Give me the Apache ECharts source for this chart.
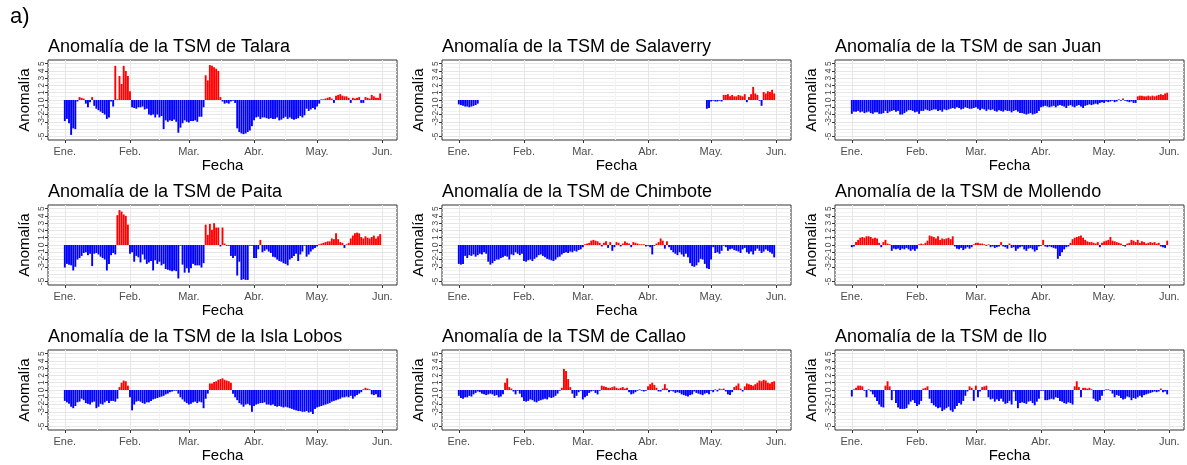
<!DOCTYPE html>
<html><head><meta charset="utf-8">
<script src="https://cdn.jsdelivr.net/npm/echarts@6/dist/echarts.min.js"></script>
<style>html,body{margin:0;padding:0;background:#fff}#c{width:1187px;height:465px}</style>
</head><body><div id="c"></div>
<script>
// ---- tick labels / categories ----
const monthLabels = ['Ene.','Feb.','Mar.','Abr.','May.','Jun.'];
const monthDays = [0, 31, 59, 90, 120, 151];
const midMonthDays = [15.5, 45, 74.5, 105, 135.5];
const yTicks = [-5,-4,-3,-2,-1,0,1,2,3,4,5];
const yMinor = [-4.5,-3.5,-2.5,-1.5,-0.5,0.5,1.5,2.5,3.5,4.5];
const stations = ['Talara','Salaverry','san Juan','Paita','Chimbote','Mollendo','la Isla Lobos','Callao','Ilo'];

// ---- daily anomalies, 1 Jan .. 31 May ----
const talara = [
-2.9,-2.6,-3.2,-4.8,-3.9,-4.0,-0.2,0.4,0.3,0.2,
-0.5,-1.0,-0.3,0.4,-0.8,-1.2,-1.4,-1.6,-1.8,-2.0,
-2.6,-2.4,-0.2,-0.9,4.7,0.1,3.3,2.2,4.7,4.0,
3.3,1.2,-1.0,-1.1,-1.2,-1.0,-1.0,-0.9,-1.3,-1.2,
-2.0,-2.1,-2.0,-2.4,-2.0,-2.4,-2.2,-4.0,-2.8,-3.0,
-2.8,-2.9,-2.7,-3.0,-4.5,-3.8,-3.2,-2.8,-3.0,-3.1,
-2.9,-2.9,-2.8,-3.0,-2.3,-2.3,-1.0,3.4,2.7,4.8,
4.7,4.5,4.3,4.0,0.4,-0.2,-0.5,-0.4,-0.5,-0.2,
-0.1,-0.4,-3.9,-4.4,-4.6,-4.7,-4.6,-4.4,-4.2,-3.6,
-2.8,-2.4,-2.3,-2.6,-2.4,-2.4,-2.5,-2.6,-2.5,-2.6,
-2.6,-2.4,-2.8,-2.7,-2.5,-2.3,-2.6,-2.4,-2.6,-2.7,
-2.6,-2.5,-2.2,-2.4,-2.1,-1.2,-1.5,-1.3,-1.1,-1.3,
-0.9,-0.5,0.1,0.1,0.2,0.3,0.4,0.2,-0.4,0.6,
0.7,0.8,0.6,0.5,0.5,0.3,-0.4,0.3,0.2,0.3,
0.4,-0.4,-0.4,0.4,0.3,0.2,0.7,0.5,0.3,0.3,
0.9];
const salaverry = [
-0.6,-0.7,-0.8,-0.9,-0.9,-1.0,-0.9,-0.8,-0.7,-0.5,
null,null,null,null,null,null,null,null,null,null,
null,null,null,null,null,null,null,null,null,null,
null,null,null,null,null,null,null,null,null,null,
null,null,null,null,null,null,null,null,null,null,
null,null,null,null,null,null,null,null,null,null,
null,null,null,null,null,null,null,null,null,null,
null,null,null,null,null,null,null,null,null,null,
null,null,null,null,null,null,null,null,null,null,
null,null,null,null,null,null,null,null,null,null,
null,null,null,null,null,null,null,null,null,null,
null,null,null,null,null,null,null,null,
-1.2,-1.1,-0.2,-0.1,-0.2,-0.2,-0.1,-0.2,0.7,0.7,
0.8,0.5,0.7,0.5,0.5,0.7,0.6,0.5,0.8,-0.3,
0.4,0.8,1.8,0.9,0.7,-0.1,-0.8,1.1,0.9,1.2,
1.1,1.4,0.9];
const sanJuan = [
-1.9,-1.6,-1.6,-1.5,-1.7,-1.6,-1.8,-1.7,-1.6,-1.8,
-1.9,-1.7,-1.7,-1.9,-1.9,-1.8,-1.5,-1.8,-1.6,-1.5,
-1.4,-1.6,-1.5,-2.0,-2.0,-1.8,-1.6,-1.4,-1.4,-1.5,
-1.7,-1.6,-1.9,-1.5,-1.5,-1.3,-1.4,-1.5,-1.4,-1.3,
-1.3,-1.5,-1.4,-1.6,-1.3,-1.4,-1.3,-1.2,-1.1,-1.2,
-1.0,-1.1,-1.3,-1.2,-1.0,-1.1,-1.2,-1.2,-1.1,-1.0,
-1.2,-1.4,-1.2,-1.3,-1.5,-1.3,-1.4,-1.3,-1.5,-1.6,
-1.4,-1.5,-1.6,-1.4,-1.5,-1.5,-1.7,-1.5,-1.4,-1.6,
-1.8,-1.8,-1.9,-2.0,-1.9,-1.8,-2.0,-1.9,-1.8,-1.5,
-1.0,-0.9,-0.8,-0.9,-1.0,-0.9,-0.8,-1.0,-0.8,-0.7,
-0.8,-0.9,-1.1,-0.8,-0.7,-0.9,-1.0,-0.8,-0.7,-0.9,
-1.1,-0.8,-0.7,-0.6,-0.7,-0.6,-0.5,-0.6,-0.4,-0.3,
-0.4,-0.2,-0.3,-0.2,-0.1,-0.3,-0.2,0.1,-0.1,0.2,
-0.1,-0.2,-0.3,-0.2,-0.4,-0.4,0.5,0.6,0.6,0.5,
0.5,0.6,0.5,0.6,0.5,0.6,0.7,0.8,0.7,0.9,
1.0];
const paita = [
-3.1,-2.6,-2.7,-2.8,-3.5,-3.0,-2.0,-1.8,-1.5,-1.1,
-1.0,-1.4,-1.2,-2.9,-1.2,-1.1,-1.3,-1.6,-1.8,-2.0,
-3.5,-2.6,-1.4,-1.1,-1.3,4.1,4.8,4.6,4.2,4.0,
2.8,-1.2,-1.0,-2.3,-1.5,-1.7,-2.4,-1.3,-2.0,-2.6,
-2.4,-2.2,-3.5,-2.1,-2.6,-2.3,-2.8,-2.6,-3.3,-3.4,
-3.5,-3.6,-3.5,-3.6,-4.6,-0.1,-2.7,-3.8,-3.2,-3.8,
-3.2,-2.6,-2.8,-2.8,-2.8,-3.1,-2.5,2.8,1.4,2.9,
2.1,3.0,2.4,2.4,-0.2,2.4,0.2,-0.1,-0.1,-1.5,
-1.8,-1.5,-4.2,-2.3,-4.8,-4.7,-4.8,-4.8,-0.1,-0.1,
-1.8,-1.8,-0.6,0.7,-1.0,-0.8,-0.6,-0.9,-1.1,-1.6,
-1.7,-2.0,-2.2,-2.3,-2.5,-2.6,-2.8,-2.0,-1.8,-1.5,
-1.2,-2.2,-1.3,-0.9,-0.1,-1.6,-1.3,-0.9,-0.6,-0.4,
-0.2,0.1,0.2,0.3,0.4,0.5,0.5,0.9,0.8,1.6,
0.8,0.4,0.3,-0.4,0.1,0.3,0.9,1.3,1.6,1.7,
1.6,1.1,0.9,1.2,1.0,0.9,1.1,1.3,0.9,1.2,
1.5];
const chimbote = [
-2.6,-2.7,-2.6,-1.5,-1.8,-1.4,-1.5,-1.3,-1.6,-1.4,
-1.2,-1.3,-1.0,-1.2,-2.3,-2.7,-2.5,-2.2,-2.0,-2.0,
-1.8,-1.7,-1.5,-1.6,-2.0,-1.3,-1.4,-1.0,-1.2,-1.4,
-1.2,-2.2,-2.3,-2.1,-2.0,-2.2,-1.9,-1.7,-1.4,-1.3,
-1.5,-1.7,-1.9,-2.0,-2.1,-2.2,-2.0,-1.7,-1.6,-1.3,
-1.1,-1.0,-1.1,-0.9,-1.0,-0.8,-0.9,-0.7,-0.6,-0.3,
0.1,0.2,0.3,0.6,0.7,0.6,0.5,0.3,-0.2,0.3,
0.5,-0.4,0.4,-0.8,-0.3,0.4,0.3,-0.2,0.2,0.5,
0.3,0.2,-0.3,0.4,0.3,0.2,0.1,0.1,0.1,-0.2,
-0.1,-0.3,-1.3,-0.1,0.2,0.4,0.9,0.6,-0.5,0.5,
-0.3,-0.7,-1.0,-1.2,-1.4,-1.0,-1.3,-1.6,-1.2,-1.7,
-2.5,-2.9,-3.0,-2.8,-2.4,-1.9,-2.0,-2.6,-3.2,-3.3,
-2.0,-0.3,-1.1,-1.0,-1.2,-0.8,-0.1,-0.3,-0.8,-0.6,
-0.5,-0.7,-0.8,-0.9,-1.1,-0.6,-0.4,-1.0,-1.2,-0.9,
-1.3,-0.8,-0.5,-0.8,-1.1,-0.9,-0.6,-0.8,-1.0,-1.2,
-1.7];
const mollendo = [
-0.3,-0.2,0.4,0.7,1.0,1.1,1.0,1.2,1.2,1.1,
0.9,1.0,0.9,0.3,-0.3,0.4,0.7,0.2,0.1,-0.8,
-0.5,-0.6,-0.5,-0.7,-0.5,-0.6,-0.4,-0.6,-0.8,-0.6,
-0.8,-0.5,0.1,0.2,0.1,0.3,0.6,1.3,1.2,1.1,
0.9,1.2,0.7,0.9,0.8,0.9,1.0,0.8,1.2,-0.2,
-0.5,-0.6,-0.4,-0.7,-0.5,-0.3,-0.5,-0.3,0.1,0.3,
0.3,0.2,0.2,0.1,-0.1,0.1,-0.3,-0.2,-0.4,-0.3,
-0.2,0.4,-0.2,-0.3,-0.5,0.2,-0.4,-0.3,-0.8,-0.5,
-0.3,-0.2,-0.6,-0.8,-0.5,-0.4,-0.6,-0.9,-0.7,-0.2,
-0.1,0.7,-0.2,-0.3,-0.2,-0.3,-0.4,-0.5,-1.9,-1.5,
-1.0,-0.6,-0.3,-0.2,0.3,0.8,1.0,1.1,1.2,1.3,
1.0,0.7,0.5,0.4,0.4,0.3,0.2,0.4,-0.3,0.3,
0.5,0.6,0.7,1.1,0.6,0.5,0.4,0.3,0.2,-0.1,
-0.2,0.2,0.3,0.7,0.6,0.4,0.7,0.3,0.5,0.4,
0.2,0.3,0.4,0.3,0.4,0.2,0.3,-0.2,-0.3,-0.4,
0.6];
const islaLobos = [
-1.5,-1.7,-1.9,-2.3,-2.5,-2.2,-1.7,-1.6,-1.2,-1.4,
-1.8,-1.9,-2.0,-1.7,-1.6,-2.5,-2.3,-1.9,-2.0,-1.7,
-1.5,-1.8,-1.5,-1.5,-1.6,-1.2,0.4,1.0,1.3,1.2,
0.6,-1.0,-2.8,-2.0,-1.6,-1.5,-1.6,-1.8,-1.9,-1.7,
-1.7,-1.5,-1.3,-1.2,-1.1,-1.0,-0.9,-0.8,-0.6,-0.5,
-0.3,-0.2,-0.1,-0.1,-0.5,-1.0,-1.3,-1.6,-1.8,-2.0,
-1.9,-1.7,-1.6,-1.8,-1.6,-1.7,-2.5,-1.2,-0.5,0.9,
0.9,1.1,1.2,1.4,1.5,1.6,1.4,1.3,1.2,1.0,
-0.5,-1.0,-1.4,-1.8,-2.0,-2.3,-2.0,-1.9,-2.1,-3.0,
-2.2,-2.0,-1.9,-1.8,-1.8,-1.7,-2.0,-2.0,-2.1,-2.0,
-2.2,-2.3,-2.2,-2.3,-2.4,-2.3,-2.4,-2.5,-2.6,-2.7,
-2.8,-2.9,-2.9,-3.0,-3.0,-2.9,-3.1,-3.0,-3.3,-2.6,
-2.4,-2.3,-2.2,-2.1,-2.0,-1.9,-1.8,-1.6,-1.5,-1.4,
-1.3,-1.2,-1.0,-1.0,-0.9,-1.0,-0.8,-1.2,-0.9,-0.7,
-0.5,-0.3,0.1,0.3,0.2,0.1,-0.6,-0.7,-0.6,-1.0,
-1.0];
const callao = [
-0.8,-1.1,-1.2,-1.0,-1.0,-0.8,-0.9,-0.6,-0.4,-0.2,
-0.3,-0.5,-0.6,-0.7,-0.6,-0.5,-0.6,-0.8,-0.7,-1.0,
-0.9,-0.6,1.0,1.6,0.4,0.2,-0.2,-0.6,-0.1,-0.5,
-1.0,-1.5,-1.6,-1.5,-1.3,-1.4,-1.6,-1.7,-1.5,-1.4,
-1.3,-1.2,-1.3,-1.0,-1.1,-1.0,-0.8,-0.5,-0.1,0.3,
2.9,2.6,1.5,0.4,-0.5,-1.1,-0.8,-0.3,-0.1,-1.3,
-1.0,-0.8,-0.4,-0.2,-0.1,-0.4,-0.6,-0.1,0.6,0.5,
0.4,0.3,0.3,0.4,0.5,0.3,0.2,0.3,0.4,0.2,
0.3,-0.3,-0.6,-0.5,-0.3,-0.1,0.1,-0.1,-0.2,-0.1,
0.5,0.8,1.0,0.7,0.3,-0.2,-0.2,0.2,0.8,0.2,
-0.3,-0.1,-0.2,-0.4,-0.3,-0.4,-0.6,-0.7,-0.8,-0.9,
-0.7,-0.6,-0.2,-0.4,-0.5,-0.6,-0.7,-0.5,-0.4,-0.6,
-0.1,-0.3,0.1,-0.2,0.2,0.1,0.2,-0.2,-0.6,-0.7,
-0.3,0.4,0.6,0.9,0.2,-0.2,0.5,0.9,0.8,0.7,
0.6,0.8,1.0,1.3,1.2,1.4,1.3,1.0,0.9,1.1,
1.2];
const ilo = [
-0.9,0.1,0.3,0.6,0.6,0.5,-0.1,-1.0,0.1,-0.2,
-0.6,-1.0,-1.5,-2.0,-2.3,-2.4,0.6,1.2,0.5,-1.4,
-0.1,-1.8,-2.4,-2.6,-2.6,-2.6,-2.5,-2.0,-1.6,-1.4,
-1.8,-2.2,-2.0,-1.5,0.2,0.3,0.5,-1.2,-1.8,-2.1,
-2.3,-2.5,-2.4,-2.9,-2.7,-2.5,-2.3,-2.8,-3.0,-2.6,
-2.2,-1.8,-2.0,-1.5,-0.8,-0.2,0.5,0.3,-1.5,0.6,
-1.0,-0.2,0.4,0.5,0.6,-1.0,-1.3,-1.2,-1.6,-1.3,
-1.5,-1.2,-1.6,-1.9,-1.8,-1.5,-2.0,-0.2,-1.5,-2.5,
-1.8,-1.7,-1.8,-1.9,-1.6,-1.5,-1.8,-2.1,-1.6,-1.2,
-0.1,-0.1,-1.4,-1.4,-1.3,-1.2,-1.3,-1.0,-1.1,-1.5,
-1.6,-1.8,-1.9,-1.7,-1.8,-2.0,0.5,1.2,0.4,-1.0,
0.3,0.3,0.2,0.3,0.1,-1.2,-1.5,-1.6,-1.4,-0.8,
-0.1,0.1,0.1,-0.1,-0.5,-1.0,-0.7,-0.8,-1.1,-1.3,
-1.2,-0.9,-1.0,-1.4,-1.1,-1.2,-1.0,-0.8,-1.0,-0.7,
-0.6,-0.5,-0.4,-0.3,-0.2,-0.3,-0.2,0.2,-0.3,-0.2,
-0.6];

const panelValues = [talara, salaverry, sanJuan, paita, chimbote, mollendo, islaLobos, callao, ilo];

// ---- layout / style ----
const FONT = '"Liberation Sans", Arial, sans-serif';
const colLeft = [48, 442, 835], rowTop = [60, 205, 350], W = 349, H = 80;
const POS = '#FF0000', NEG = '#0000FF';

const grid = [], xAxis = [], yAxis = [], series = [];
const title = [{text: 'a)', left: 10, top: 6, padding: 0,
  textStyle: {fontSize: 22, fontWeight: 'normal', color: '#000', fontFamily: FONT}}];

panelValues.forEach((vals, i) => {
  const r = Math.floor(i / 3), c = i % 3;
  grid.push({left: colLeft[c], top: rowTop[r], width: W, height: H,
    show: true, borderColor: '#333333', borderWidth: 1, backgroundColor: '#fff',
    containLabel: false, outerBoundsMode: 'none'});
  title.push({text: 'Anomalía de la TSM de ' + stations[i], left: colLeft[c], top: rowTop[r] - 22, padding: 0,
    textStyle: {fontSize: 18, fontWeight: 'normal', color: '#000', fontFamily: FONT}});
  // main x axis
  xAxis.push({gridIndex: i, type: 'value', min: -8, max: 158, position: 'bottom',
    axisLine: {show: false, onZero: false},
    axisTick: {show: true, length: 3, lineStyle: {color: '#333333'}, customValues: monthDays},
    axisLabel: {customValues: monthDays, formatter: v => monthLabels[monthDays.indexOf(v)],
      fontSize: 11, color: '#4D4D4D', margin: 6, fontFamily: FONT, hideOverlap: false},
    splitLine: {show: true, lineStyle: {color: '#E6E6E6', width: 1}},
    name: 'Fecha', nameLocation: 'middle', nameGap: 18,
    nameTextStyle: {fontSize: 15, color: '#000', fontFamily: FONT}});
  // minor grid x axis
  xAxis.push({gridIndex: i, type: 'value', min: -8, max: 158, position: 'bottom',
    axisLine: {show: false, onZero: false},
    axisTick: {show: false, customValues: midMonthDays},
    axisLabel: {show: false},
    splitLine: {show: true, lineStyle: {color: '#F2F2F2', width: 1}}});
  // main y axis
  yAxis.push({gridIndex: i, type: 'value', min: -5.5, max: 5.5, position: 'left',
    axisLine: {show: false, onZero: false},
    axisTick: {show: true, length: 3, lineStyle: {color: '#333333'}, customValues: yTicks},
    axisLabel: {customValues: yTicks, rotate: 90, fontSize: 8.5, color: '#4D4D4D', margin: 2,
      fontFamily: FONT, hideOverlap: false, showMinLabel: true, showMaxLabel: true},
    splitLine: {show: true, lineStyle: {color: '#E6E6E6', width: 1}},
    name: 'Anomalía', nameLocation: 'middle', nameGap: 16, nameRotate: 90,
    nameTextStyle: {fontSize: 15, color: '#000', fontFamily: FONT}});
  // minor grid y axis
  yAxis.push({gridIndex: i, type: 'value', min: -5.5, max: 5.5, position: 'left',
    axisLine: {show: false, onZero: false},
    axisTick: {show: false, customValues: yMinor},
    axisLabel: {show: false},
    splitLine: {show: true, lineStyle: {color: '#F2F2F2', width: 1}}});

  const data = [];
  vals.forEach((v, d) => { if (v !== null) data.push([d, v]); });
  series.push({type: 'bar', xAxisIndex: 2 * i, yAxisIndex: 2 * i, data: data,
    barWidth: '90%', silent: true,
    itemStyle: {color: p => (p.value[1] >= 0 ? POS : NEG)}});
});

const chart = echarts.init(document.getElementById('c'), null, {renderer: 'canvas'});
chart.setOption({backgroundColor: '#fff', animation: false, title, grid, xAxis, yAxis, series});
</script>
</body></html>
